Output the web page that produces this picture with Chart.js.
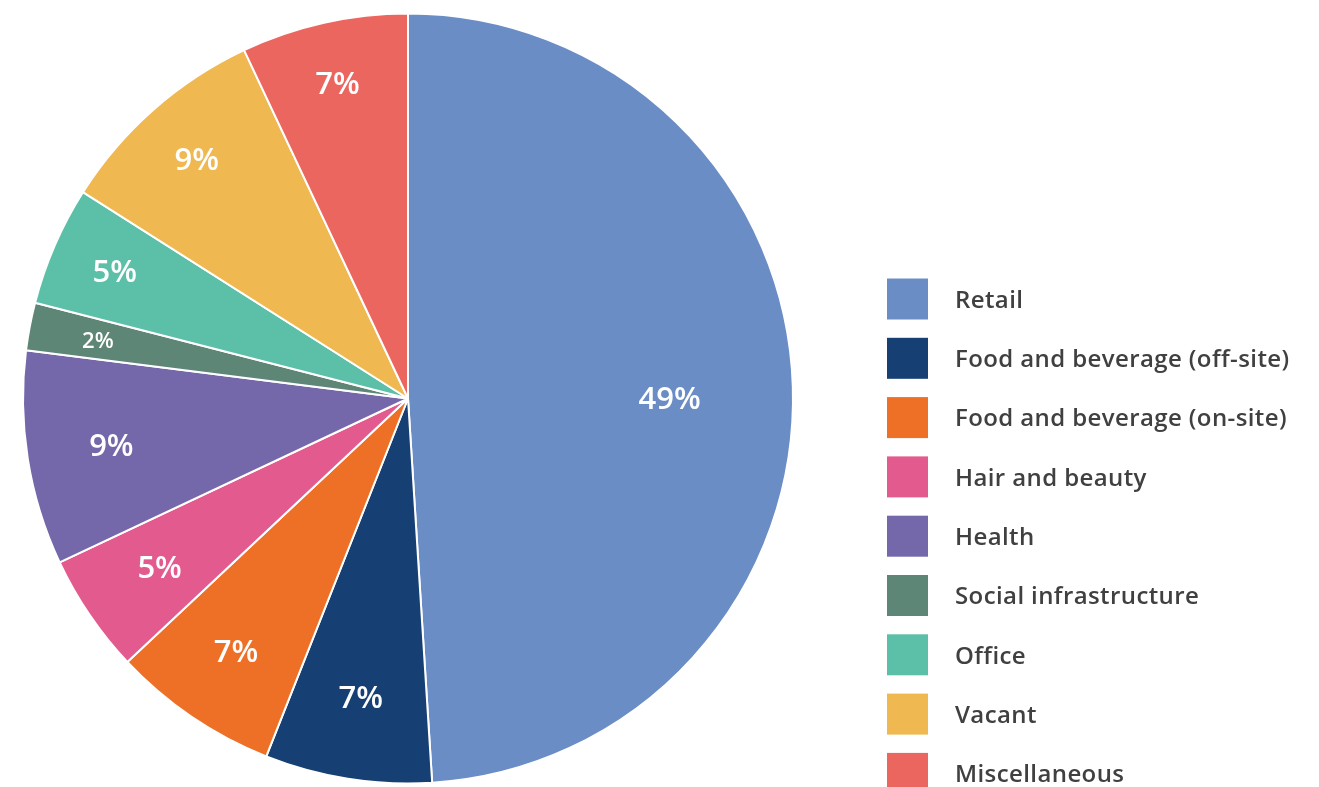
<!DOCTYPE html>
<html lang="en">
<head>
  <meta charset="UTF-8" />
  <title>Use classes</title>
  <script src="https://cdn.jsdelivr.net/npm/chart.js"></script>
  <style>
    html, body { margin: 0; padding: 0; background: #fff; }
    #wrap { width: 1319px; height: 787px; position: relative; }
  </style>
</head>
<body>
  <div id="wrap">
    <canvas id="chart" width="1319" height="787"></canvas>
  </div>
  <script>
    const categories = [
      "Retail",
      "Food and beverage (off-site)",
      "Food and beverage (on-site)",
      "Hair and beauty",
      "Health",
      "Social infrastructure",
      "Office",
      "Vacant",
      "Miscellaneous"
    ];
    const shares = [49, 7, 7, 5, 9, 2, 5, 9, 7];
    const colors = [
      "#6a8dc5", "#163f73", "#ee7026", "#e35b8e", "#7468aa",
      "#5e8676", "#5cc0a8", "#efb851", "#eb665f"
    ];

    const FONT = "'Open Sans', 'Lato', sans-serif";
    // how far out (share of radius) each percent label sits
    const labelDist = [0.68, 0.785, 0.795, 0.78, 0.78, 0.82, 0.83, 0.83, 0.84];

    // percent labels inside the slices
    const sliceLabels = {
      id: "sliceLabels",
      afterDatasetsDraw(chart) {
        const ctx = chart.ctx;
        const arcs = chart.getDatasetMeta(0).data;
        ctx.save();
        ctx.fillStyle = "#fff";
        ctx.textAlign = "center";
        ctx.textBaseline = "middle";
        arcs.forEach((arc, i) => {
          const v = shares[i];
          const mid = (arc.startAngle + arc.endAngle) / 2;
          const r = arc.outerRadius * labelDist[i];
          ctx.font = (v < 3 ? "600 22px " : "600 31px ") + FONT;
          // big half-circle slice: keep its label on the centre line like the original
          const y = v > 40 ? arc.y : arc.y + Math.sin(mid) * r;
          ctx.fillText(v + "%", arc.x + Math.cos(mid) * r, y + 2);
        });
        ctx.restore();
      }
    };

    // legend on the right
    const sideLegend = {
      id: "sideLegend",
      afterDraw(chart) {
        const ctx = chart.ctx;
        ctx.save();
        ctx.textBaseline = "middle";
        ctx.font = "600 24px " + FONT;
        ctx.letterSpacing = "0.4px";
        categories.forEach((name, i) => {
          const cy = 299 + i * 59.3;
          ctx.fillStyle = colors[i];
          ctx.fillRect(887, cy - 20.5, 41, 41);
          ctx.fillStyle = "#404040";
          ctx.fillText(name, 955, cy + 2);
        });
        ctx.restore();
      }
    };

    new Chart(document.getElementById("chart"), {
      type: "pie",
      data: {
        labels: categories,
        datasets: [{
          data: shares,
          backgroundColor: colors,
          borderColor: "#fff",
          borderWidth: 2
        }]
      },
      options: {
        responsive: false,
        animation: false,
        layout: { padding: { left: 22, top: 12, right: 525, bottom: 2 } },
        plugins: {
          legend: { display: false },
          tooltip: { enabled: false }
        }
      },
      plugins: [sliceLabels, sideLegend]
    });
  </script>
</body>
</html>
